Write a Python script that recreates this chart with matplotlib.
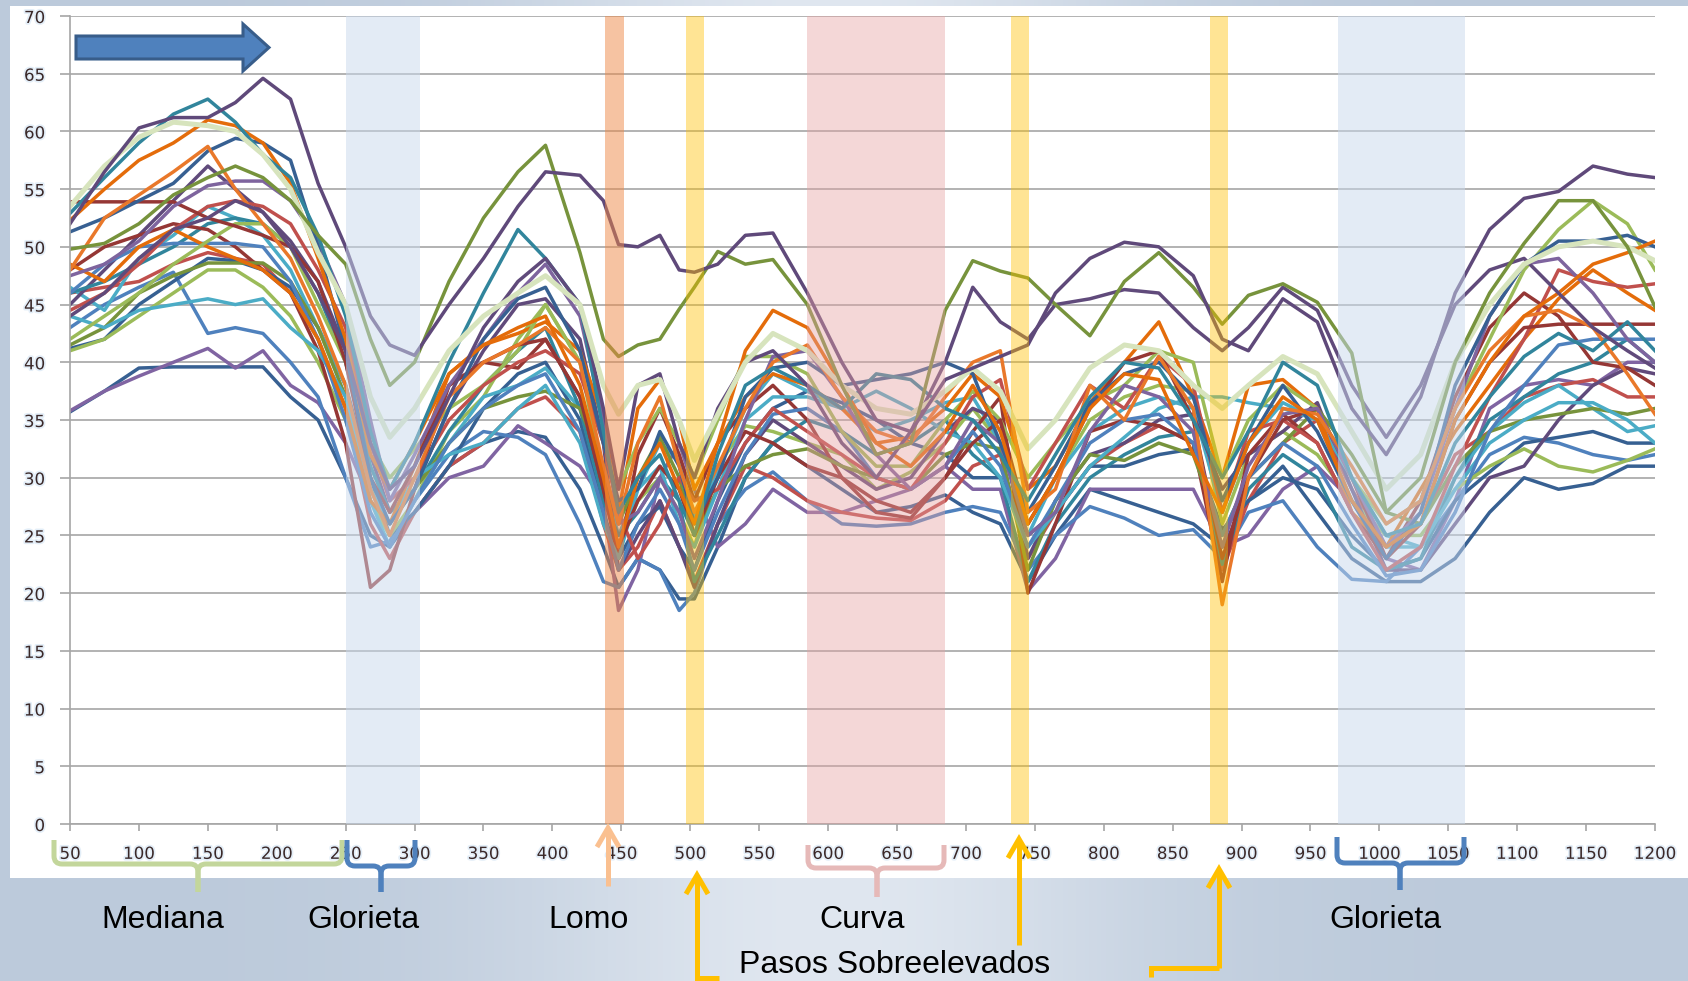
import numpy as np
import matplotlib
matplotlib.use("Agg")
import matplotlib.pyplot as plt
from matplotlib.path import Path
from matplotlib.patches import PathPatch, Rectangle, Polygon
import matplotlib.patheffects as pe

# distance along the road (m) where every run was sampled
x_pos = [50, 75, 100, 125, 150, 170, 190, 210, 230, 250,
         268, 282, 300, 325, 350, 375, 395,
         420, 437, 448, 462, 478, 492, 503,
         520, 540, 560, 585, 610, 635, 660, 685,
         705, 725, 745, 765, 790, 815, 840, 865,
         886, 905, 930, 955, 980, 1005, 1030, 1055,
         1080, 1105, 1130, 1155, 1180, 1200]

# speed (km/h) of each run
v_pale = [53.5, 57, 59.5, 60.8, 60.5, 60, 58, 55, 49.5, 45,
          37, 33.5, 36, 41, 44, 46, 47.5,
          45, 38, 35.5, 38, 38.5, 35, 31.5,
          35.5, 40, 42.5, 41, 38, 36, 35.5, 37.5,
          39.5, 37.5, 32.5, 35, 39.5, 41.5, 41, 38,
          36, 38, 40.5, 39, 34, 29, 32, 40,
          45, 48.5, 50, 50.5, 50, 48.8]
v_purple_top = [52, 56.5, 60.3, 61.2, 61.2, 62.5, 64.6, 62.8, 55.5, 50,
                44, 41.5, 40.6, 45, 49, 53.5, 56.5,
                56.2, 54, 50.2, 50, 51, 48, 47.8,
                48.5, 51, 51.2, 46, 40, 35, 34, 38.5,
                39.5, 40.5, 41.5, 46, 49, 50.4, 50, 47.5,
                42, 41, 45.5, 43.5, 36, 32, 37, 46,
                51.5, 54.2, 54.8, 57, 56.3, 56]
v_green_top = [49.8, 50.3, 52, 54.5, 56, 57, 56, 54, 51, 48.5,
               42, 38, 40, 47, 52.5, 56.5, 58.8,
               49.5, 42, 40.5, 41.5, 42, 44.6, 46.5,
               49.6, 48.5, 48.9, 45, 38, 32, 33, 44.5,
               48.8, 47.9, 47.3, 45, 42.3, 47, 49.5, 46.5,
               43.3, 45.8, 46.8, 45.2, 40.8, 27, 30, 40,
               46, 50.3, 54, 54, 50, 44.8]
v_teal_top = [52.9, 56, 59, 61.5, 62.8, 60.8, 58, 56, 51, 44,
              34, 29, 33, 40, 46, 51.5, 49,
              45, 34, 27, 30, 32, 28, 25,
              32, 38, 39.5, 38, 36, 39, 38.5, 36,
              35, 32, 28, 32, 37, 40, 39.5, 35,
              30, 34, 40, 38, 30, 25, 26, 33,
              37, 40.5, 42.5, 41, 43.5, 41]
v_orange_a = [52.3, 55, 57.5, 59, 61, 60.5, 59, 55.5, 49, 42,
              32, 29, 33, 39, 41.5, 43, 44,
              38, 30, 24, 30, 33, 29, 26,
              33, 41, 44.5, 43, 38, 33, 31, 34,
              38, 34, 26, 30, 36, 39, 38.5, 32,
              27, 33, 37, 35, 28, 24, 26, 35,
              40, 44, 46, 48.5, 49.5, 50.5]
v_orange_b = [48, 52.5, 54.5, 56.5, 58.7, 55, 52, 49, 44, 38,
              29, 25, 30, 37, 40, 41.5, 43,
              40, 31, 26, 33, 37, 31, 27,
              31, 36, 40, 41.5, 37, 34, 33, 37,
              40, 41, 27, 29, 38, 35, 40.5, 36,
              19, 30, 36, 35.5, 31, 26, 28, 36,
              41, 44, 44.5, 43, 39, 35.5]
v_blue_top = [51.3, 52.5, 54, 55.5, 58.3, 59.4, 59, 57.5, 50, 41,
              30, 26, 29, 36, 42, 45.5, 46.5,
              41, 33, 28, 29, 34, 31, 26,
              30, 37, 39.5, 40, 38, 38.5, 39, 40,
              39, 33, 27, 31, 36.5, 39, 40, 37,
              28, 33, 38, 34, 28, 23, 27, 38,
              44, 48.5, 50.5, 50.5, 51, 50]
v_purple2 = [47.5, 48.5, 50.5, 53.5, 55.3, 55.7, 55.7, 54, 50.5, 45,
             35, 28, 32, 38, 42, 46, 48.5,
             44, 35, 26, 27, 30, 27, 23,
             28, 35, 40.5, 41, 37, 32, 29, 31,
             35, 33, 25, 27, 34, 38, 37, 34,
             24, 31, 35.5, 36, 30, 24, 27, 36,
             44, 48.5, 49, 46, 42, 40]
v_red1 = [53.9, 53.9, 53.9, 53.9, 52.5, 51.8, 51, 50, 47, 40,
          30, 27, 31, 38, 40, 41.5, 42,
          37, 29, 24, 28, 31, 29, 25,
          30, 34, 33, 31, 30, 28, 27, 30,
          33, 35, 26, 30, 36, 40, 41, 35,
          23, 30, 35, 36, 30, 23, 26, 35,
          40, 43, 43.3, 43.3, 43.3, 43.3]
v_red2 = [44.5, 46, 48.5, 51.5, 53.5, 54, 53.5, 52, 48, 43,
          33, 28, 30, 35, 38, 40, 41,
          39, 33, 27, 23, 26, 30, 28,
          29, 33, 36, 34, 32, 30, 29, 33,
          37, 38.5, 29, 33, 38, 36, 40.5, 38,
          27, 34, 35, 33, 27, 22, 24, 31,
          37, 42, 48, 47, 46.5, 46.8]
v_green2 = [42, 44, 46, 48.5, 50.5, 52, 52, 50, 45, 40,
            33, 30, 32.5, 36, 38, 41, 45,
            40, 33, 29, 33, 36, 33, 30,
            35, 40.5, 40.5, 39, 34, 31, 31, 35,
            37.5, 35, 30, 33, 36.5, 38, 41, 40,
            30, 35, 38, 36, 30, 26, 28, 36,
            42, 48, 51.5, 54, 52, 48]
v_blue2 = [46, 48.5, 50, 50.3, 50.3, 50.3, 50, 47, 42, 35,
           27, 24, 28, 33, 36, 38, 39,
           34, 27, 22, 26, 29, 26, 22,
           27, 32, 35.5, 36, 34, 30, 29, 31,
           34, 31, 24, 28, 33, 35, 35.5, 33,
           25, 30, 33, 31, 26, 21.5, 22, 27,
           34, 38, 41.5, 42, 42, 42]
v_green3 = [41.5, 43, 46, 47.5, 48.6, 48.6, 48.6, 47, 43, 37,
            29, 26, 29, 33, 36, 37, 37.5,
            36, 31, 26, 30, 33.5, 30, 25,
            29, 31, 32, 32.5, 31, 30, 29, 32,
            33, 32.5, 22, 28, 32, 31.5, 33, 32,
            25, 30, 33, 36, 32, 27, 26, 31,
            34, 35, 35.5, 36, 35.5, 36]
v_teal2 = [44, 43, 44.5, 45, 45.5, 45, 45.5, 43, 41, 37,
           29, 26, 30, 32, 33, 36, 38,
           33, 26, 23, 29, 31, 26, 24,
           29, 35, 37, 37, 36, 37.5, 36, 34,
           33, 30, 24, 27, 31, 33.5, 36, 37,
           37, 36.5, 36, 35, 30, 25, 24, 29,
           33, 35, 36.5, 36.5, 35, 33]
v_blue3 = [35.7, 37.5, 39.5, 39.6, 39.6, 39.6, 39.6, 37, 35, 30,
           25, 24, 27, 31, 33, 34, 33.5,
           29, 24, 20.5, 23, 22, 19.5, 19.5,
           24, 30, 33, 31, 29, 27, 27.5, 28.5,
           27, 26, 21, 25, 29, 28, 27, 26,
           24, 28, 31, 27, 23, 21, 21, 23,
           27, 30, 29, 29.5, 31, 31]
v_purple3 = [35.8, 37.5, 38.8, 40, 41.2, 39.5, 41, 38, 36.5, 33,
             28, 25, 27, 30, 31, 34.5, 33,
             31, 28, 18.5, 22, 30, 33, 29,
             24, 26, 29, 27, 27, 28, 29, 31,
             29, 29, 20.2, 23, 29, 29, 29, 29,
             24, 25, 29, 31, 28, 23, 22, 28,
             36, 38, 38.5, 38, 40, 40]
v_red3 = [48, 50, 51, 52, 51.5, 50, 48, 46, 41, 33,
          20.5, 22, 29, 38, 40, 39.5, 42,
          37, 29, 23, 32, 36, 32, 28,
          33, 36, 38, 35, 30, 27, 26.5, 30,
          34, 37, 20, 26, 34, 35, 34.5, 33,
          21, 32, 35.5, 33, 27, 23, 28, 37,
          43, 46, 44, 40, 39.5, 38]
v_teal3 = [46, 47, 48.5, 50, 52, 52.5, 52, 50, 46, 40,
           31, 27, 29, 34, 38, 41, 43,
           36, 28, 25, 27, 30, 28, 21,
           25, 30, 33, 35, 34, 32, 33, 35,
           32, 30, 21, 26, 30, 32, 33.5, 34,
           22.5, 29, 32, 30, 24, 22, 23, 30,
           35, 37, 39, 40, 42, 40]
v_blue4 = [43, 45, 46.5, 47.8, 42.5, 43, 42.5, 40, 37, 30,
           24, 24.5, 28, 32, 34, 33.5, 32,
           26, 21, 20.5, 23, 22, 18.5, 20,
           26, 29, 30.5, 28, 26, 25.8, 26, 27,
           27.5, 27, 22, 25, 27.5, 26.5, 25, 25.5,
           23, 27, 28, 24, 21.2, 21, 24, 28,
           32, 33.5, 33, 32, 31.5, 32]
v_orange3 = [48.5, 47, 50, 51.5, 50, 49, 48, 46, 42, 36,
             28, 26, 31, 39, 41.5, 42.5, 43.5,
             41, 35, 27, 36, 38.5, 35, 29,
             33, 37, 39, 38, 36, 33, 33.5, 36,
             39, 37, 29, 31, 36.5, 40, 43.5, 37,
             30, 38, 38.5, 36, 27, 24, 29, 34,
             38, 42, 45.5, 48, 46, 44.5]
v_green4 = [41, 42, 44, 46, 48, 48, 46.5, 44, 40, 35,
            28, 25, 28, 34, 37, 42, 45,
            40, 30, 24, 28, 30, 27, 24,
            31, 34.5, 34, 33, 32, 29, 30.5, 33,
            36, 33, 26, 30, 35, 37, 38, 37.5,
            26, 32, 34, 32, 28, 25, 25, 29,
            31, 32.5, 31, 30.5, 31.5, 32.5]
v_purple4 = [45, 48, 51, 54, 57, 55, 53, 50.5, 47, 41,
             32, 27, 29, 36, 41, 45, 45.5,
             42, 33, 22, 25, 28, 24, 20.5,
             26, 32, 35, 33, 31, 29, 30, 34,
             36, 35, 23, 28, 32, 33, 35, 35.5,
             29, 32, 34, 36.5, 29, 22, 22, 26,
             30, 31, 35, 38, 39.5, 39]
v_teal4 = [46.5, 44.5, 49, 51, 53.5, 52.5, 51, 48, 43, 38,
           28, 24, 28, 33, 37, 38, 39.5,
           36, 30, 25, 29, 33, 31.5, 26.5,
           30.5, 36, 39, 37.5, 36, 34, 35, 36.5,
           37, 33, 25, 30, 34, 36, 37, 36,
           27, 33, 36.5, 35, 28, 24, 24, 30,
           34, 36.5, 38, 36, 34, 34.5]
v_blue5 = [41.2, 42, 45, 47, 49, 48.8, 48, 46.5, 43, 38,
           30, 25, 27, 31, 36, 39, 40,
           35, 27, 23, 26, 27.5, 24, 22,
           28, 33, 36, 37.5, 36.5, 35, 33, 32,
           30, 30, 25, 27, 31, 31, 32, 32.5,
           25.5, 28, 30, 29, 25, 22, 23, 28,
           30.5, 33, 33.5, 34, 33, 33]
v_red4 = [46, 46.5, 47, 48.5, 49.5, 49, 48.5, 46, 42, 36,
          26, 23, 27, 31, 33, 36, 37,
          34, 26, 22, 24, 28, 24, 21,
          26, 31, 30, 28, 27, 26.5, 26.3, 28,
          31, 32, 23, 27, 31, 33, 34.5, 33,
          22, 28, 33, 35, 29, 24, 26, 32,
          34, 37, 38, 38.5, 37, 37]
v_purple5 = [44, 46, 49, 51.5, 52.5, 54, 53, 50, 46, 41,
             33, 29, 31, 37, 43, 47, 49,
             45, 36, 29, 38, 39, 33, 30,
             36, 40, 41, 38, 33, 30, 34, 40,
             46.5, 43.5, 42, 45, 45.5, 46.3, 46, 43,
             41, 43, 46.5, 44.5, 38, 33.5, 38, 45,
             48, 49, 46, 43, 41, 39.5]

runs = [
    (v_blue3, '#376092'), (v_purple3, '#8064A2'), (v_blue4, '#4F81BD'),
    (v_red4, '#C0504D'), (v_blue5, '#366092'), (v_green4, '#9BBB59'),
    (v_teal4, '#4BACC6'), (v_purple4, '#604A7B'), (v_teal3, '#31859C'),
    (v_red3, '#953735'), (v_green3, '#77933C'), (v_teal2, '#4BACC6'),
    (v_blue2, '#4F81BD'), (v_orange3, '#E46C0A'), (v_green2, '#9BBB59'),
    (v_red2, '#C0504D'), (v_red1, '#953735'), (v_purple2, '#7E649E'),
    (v_blue_top, '#376092'), (v_orange_b, '#E9782A'), (v_orange_a, '#E46C0A'),
    (v_teal_top, '#31859C'), (v_purple5, '#604A7B'), (v_pale, '#D7E4BD'),
    (v_green_top, '#77933C'), (v_purple_top, '#5F497A'),
]

# zones along the road: (start, end, colour, alpha)
zones = [
    (250, 304, '#C9D9ED', 0.5),    # glorieta
    (438, 452, '#EE8946', 0.5),    # lomo
    (497, 510, '#FFC000', 0.42),   # paso sobreelevado
    (585, 685, '#E5A1A1', 0.42),   # curva
    (733, 746, '#FFC000', 0.42),   # paso sobreelevado
    (877, 890, '#FFC000', 0.42),   # paso sobreelevado
    (970, 1062, '#C9D9ED', 0.5),   # glorieta
]

W, H = 1688, 981
fig = plt.figure(figsize=(W / 100, H / 100), dpi=100)

# background
bg = fig.add_axes([0, 0, 1, 1], label='bg')
bg.set_xlim(0, W)
bg.set_ylim(H, 0)
bg.axis('off')
xx = np.linspace(0, W, 400)
glow = np.exp(-((xx - 830) / 320) ** 2)
base = np.array([188, 202, 219]) / 255
light = np.array([224, 231, 240]) / 255
row = base[None, :] + (light - base)[None, :] * glow[:, None]
img = np.repeat(row[None, :, :], 10, axis=0)
bg.imshow(img, extent=(0, W, H, 0), aspect='auto', zorder=0)
bg.add_patch(Rectangle((10, 6), W - 10, 872, facecolor='white', edgecolor='none', zorder=1))

# main chart
ax = fig.add_axes([70 / W, (H - 824) / H, 1585 / W, 808 / H], label='main')
ax.set_facecolor('none')
for vals, col in runs:
    lw = 3.6 if col == '#D7E4BD' else 2.5
    ax.plot(x_pos, vals, color=col, lw=lw, zorder=2)

for x0, x1, col, a in zones:
    ax.axvspan(x0, x1, facecolor=col, alpha=a, edgecolor='none', zorder=3)

ax.set_xlim(50, 1200)
ax.set_ylim(0, 70)
ax.set_xticks(range(50, 1201, 50))
ax.set_yticks(range(0, 71, 5))
ax.yaxis.grid(True, color='#A6A6A6', lw=1.2)
ax.set_axisbelow(True)
for s in ['top', 'right']:
    ax.spines[s].set_visible(False)
for s in ['left', 'bottom']:
    ax.spines[s].set_color('#A6A6A6')
    ax.spines[s].set_linewidth(1.2)
glow_fx = [pe.withStroke(linewidth=2.5, foreground='#E3EEF8')]
ax.tick_params(axis='x', length=5, width=1.2, color='#A6A6A6', pad=10,
               labelsize=12, labelcolor='#3A2828')
ax.tick_params(axis='y', length=7, width=1.2, color='#A6A6A6', pad=11,
               labelsize=12, labelcolor='#3A2828')
for t in ax.get_xticklabels() + ax.get_yticklabels():
    t.set_path_effects(glow_fx)

# annotations in pixel space
ov = fig.add_axes([0, 0, 1, 1], label='overlay')
ov.set_xlim(0, W)
ov.set_ylim(H, 0)
ov.axis('off')
ov.set_zorder(5)


def brace(x0, x1, xm, ytop, ybar, ybot, color):
    r = 8
    for xe, sgn in ((x0, 1), (x1, -1)):
        verts = [(xe, ytop), (xe, ybar - r), (xe, ybar), (xe + sgn * r, ybar),
                 (xm - sgn * r, ybar), (xm, ybar), (xm, ybar + r), (xm, ybot)]
        codes = [Path.MOVETO, Path.LINETO, Path.CURVE3, Path.CURVE3,
                 Path.LINETO, Path.CURVE3, Path.CURVE3, Path.LINETO]
        ov.add_patch(PathPatch(Path(verts, codes), fill=False, edgecolor=color,
                               lw=3.6, capstyle='butt', joinstyle='round'))


def up_arrow(x, y0, y1, color):
    ov.plot([x, x], [y0, y1 + 2], color=color, lw=3.6, solid_capstyle='butt')
    ov.plot([x - 11, x, x + 11], [y1 + 19, y1, y1 + 19], color=color, lw=3.6,
            solid_joinstyle='miter', solid_capstyle='butt')


brace(54, 342, 198, 840, 864, 892, '#C3D69B')
brace(347, 415, 381, 840, 866, 892, '#4F81BD')
brace(808, 944, 877, 845, 868, 897, '#E6B9B8')
brace(1337, 1464, 1400, 837, 863, 890, '#4F81BD')

up_arrow(608, 886, 828, '#FAC090')
up_arrow(697, 981, 875, '#FFC000')
ov.plot([697, 719], [978, 978], color='#FFC000', lw=3.6, solid_capstyle='butt')
up_arrow(1019, 945, 839, '#FFC000')
up_arrow(1219, 968, 869, '#FFC000')
ov.plot([1219, 1151, 1151], [968, 968, 977], color='#FFC000', lw=3.6,
        solid_capstyle='butt', solid_joinstyle='miter')

# direction arrow
ov.add_patch(Polygon([(76, 36), (243, 36), (243, 24), (269, 47.5), (243, 71),
                      (243, 59), (76, 59)], closed=True, facecolor='#4F81BD',
                     edgecolor='#385D8A', lw=2.2))

lab = dict(family='Liberation Sans', fontsize=23, color='black', ha='center', va='baseline')
ov.text(163, 928, 'Mediana', **lab)
ov.text(363, 928, 'Glorieta', **lab)
ov.text(589, 928, 'Lomo', **lab)
ov.text(862, 928, 'Curva', **lab)
ov.text(895, 973, 'Pasos Sobreelevados', **lab)
ov.text(1385, 928, 'Glorieta', **lab)

fig.savefig('out.png', dpi=100)
